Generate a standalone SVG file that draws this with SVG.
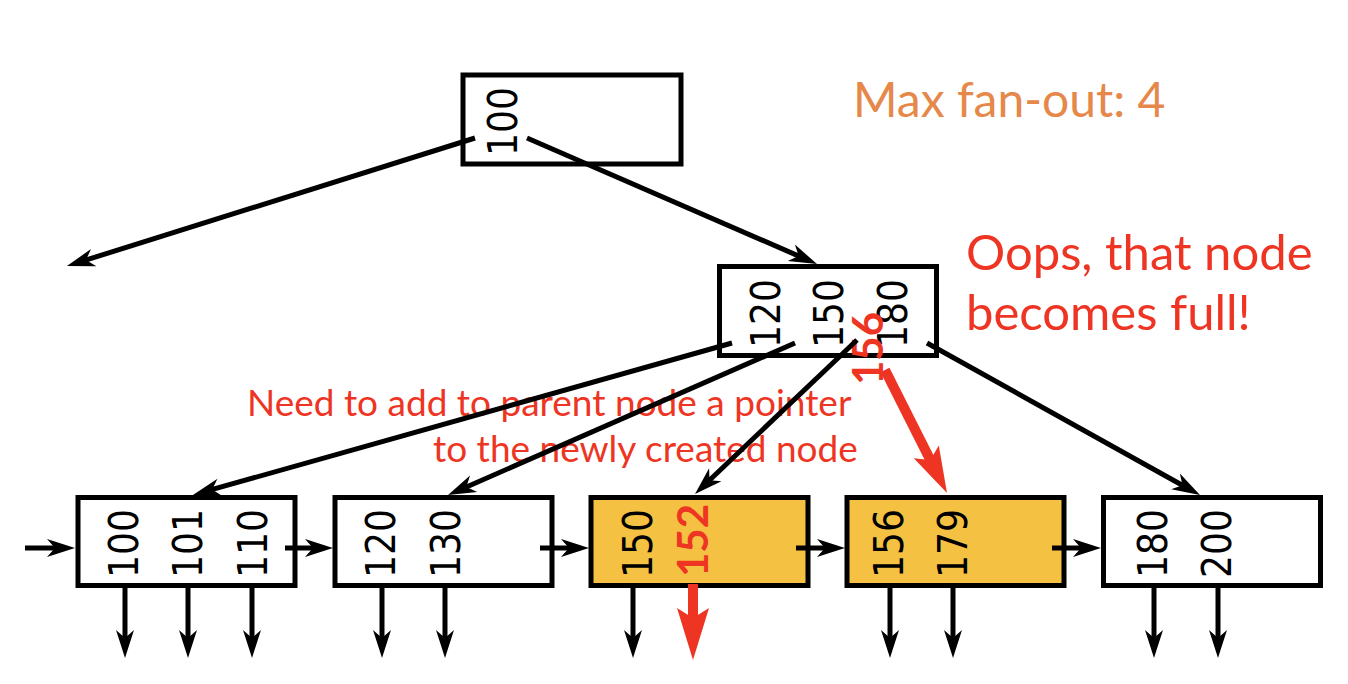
<svg xmlns="http://www.w3.org/2000/svg" width="1348" height="684" viewBox="0 0 1348 684">
<style>
.box{fill:#fff;stroke:#000;stroke-width:5}
.full{fill:#F4C142;stroke:#000;stroke-width:5}
.k{font-family:"DejaVu Sans",sans-serif;font-size:41px;fill:#000}
.rk{font-family:Lato,"Open Sans",sans-serif;font-size:42px;font-weight:bold;fill:#EE3524}
.ln{stroke:#000;stroke-width:5;fill:none}
.rl{stroke:#EE3524;stroke-width:10;fill:none}
.note{font-family:Lato,"Open Sans",sans-serif;fill:#EE3524}
</style>
<defs>
<marker id="ah" markerUnits="userSpaceOnUse" orient="auto" refX="0" refY="0" markerWidth="40" markerHeight="40" overflow="visible">
<path d="M12,0 L-16,-9 L-8,0 L-16,9 Z" fill="#000"/>
</marker>
<marker id="rah" markerUnits="userSpaceOnUse" orient="auto" refX="0" refY="0" markerWidth="60" markerHeight="60" overflow="visible">
<path d="M20,0 L-32,-16 L-22,0 L-32,16 Z" fill="#EE3524"/>
</marker>
<marker id="rah2" markerUnits="userSpaceOnUse" orient="auto" refX="0" refY="0" markerWidth="60" markerHeight="60" overflow="visible">
<path d="M18,0 L-28,-14 L-19,0 L-28,14 Z" fill="#EE3524"/>
</marker>
</defs>

<g id="root">
<rect class="box" x="463" y="75" width="218" height="89"/>
<text class="k" transform="translate(517,156) rotate(-90) scale(0.88,1)">100</text>
</g>

<g id="inner">
<rect class="box" x="719.5" y="266.5" width="217" height="89"/>
<text class="k" transform="translate(780,348) rotate(-90) scale(0.88,1)">120</text>
<text class="k" transform="translate(843,348) rotate(-90) scale(0.88,1)">150</text>
<text class="k" transform="translate(907,348) rotate(-90) scale(0.88,1)">180</text>
</g>

<g id="leaf1">
<rect class="box" x="78" y="497.5" width="217" height="88"/>
<text class="k" transform="translate(138,578) rotate(-90) scale(0.88,1)">100</text>
<text class="k" transform="translate(202,578) rotate(-90) scale(0.88,1)">101</text>
<text class="k" transform="translate(267,578) rotate(-90) scale(0.88,1)">110</text>
</g>

<g id="leaf2">
<rect class="box" x="335" y="497.5" width="217" height="88"/>
<text class="k" transform="translate(395,578) rotate(-90) scale(0.88,1)">120</text>
<text class="k" transform="translate(460,578) rotate(-90) scale(0.88,1)">130</text>
</g>

<g id="leaf3">
<rect class="full" x="591" y="497.5" width="217" height="88"/>
<text class="k" transform="translate(652,578) rotate(-90) scale(0.88,1)">150</text>
<text class="rk" transform="translate(708,577) rotate(-90)">152</text>
</g>

<g id="leaf4">
<rect class="full" x="847" y="497.5" width="217" height="88"/>
<text class="k" transform="translate(903,578) rotate(-90) scale(0.88,1)">156</text>
<text class="k" transform="translate(967,578) rotate(-90) scale(0.88,1)">179</text>
</g>

<g id="leaf5">
<rect class="box" x="1103.5" y="497.5" width="217" height="88"/>
<text class="k" transform="translate(1167,578) rotate(-90) scale(0.88,1)">180</text>
<text class="k" transform="translate(1231,578) rotate(-90) scale(0.88,1)">200</text>
</g>

<g id="annotations">
<text x="853" y="117" style="font-family:Lato,'Open Sans',sans-serif;font-size:48px;fill:#E5884A">Max fan-out: 4</text>
<text class="note" x="966" y="270" style="font-size:49px">Oops, that node</text>
<text class="note" x="966" y="330" style="font-size:49px">becomes full!</text>
<text class="note" x="247" y="416" style="font-size:37px">Need to add to parent node a pointer</text>
<text class="note" x="433" y="462" style="font-size:37px">to the newly created node</text>
<text class="rk" transform="translate(883,385) rotate(-90)">156</text>
</g>

<g id="connectors">
<line class="ln" x1="475" y1="138" x2="78.4" y2="262.4" marker-end="url(#ah)"/>
<line class="ln" x1="527" y1="138" x2="806" y2="259.2" marker-end="url(#ah)"/>
<line class="ln" x1="732" y1="343" x2="204.5" y2="491.7" marker-end="url(#ah)"/>
<line class="ln" x1="795" y1="343" x2="459" y2="490.2" marker-end="url(#ah)"/>
<line class="ln" x1="857" y1="340" x2="703.7" y2="485.7" marker-end="url(#ah)"/>
<line class="ln" x1="927" y1="343" x2="1189.5" y2="489.2" marker-end="url(#ah)"/>
<line class="ln" x1="25" y1="548" x2="63" y2="548" marker-end="url(#ah)"/>
<line class="ln" x1="285" y1="548" x2="321" y2="548" marker-end="url(#ah)"/>
<line class="ln" x1="540" y1="548" x2="577" y2="548" marker-end="url(#ah)"/>
<line class="ln" x1="796" y1="548" x2="833" y2="548" marker-end="url(#ah)"/>
<line class="ln" x1="1052" y1="548" x2="1089" y2="548" marker-end="url(#ah)"/>
<line class="ln" x1="125" y1="584" x2="125" y2="646" marker-end="url(#ah)"/>
<line class="ln" x1="188" y1="584" x2="188" y2="646" marker-end="url(#ah)"/>
<line class="ln" x1="252" y1="584" x2="252" y2="646" marker-end="url(#ah)"/>
<line class="ln" x1="382" y1="584" x2="382" y2="646" marker-end="url(#ah)"/>
<line class="ln" x1="445" y1="584" x2="445" y2="646" marker-end="url(#ah)"/>
<line class="ln" x1="633" y1="584" x2="633" y2="646" marker-end="url(#ah)"/>
<line class="ln" x1="890" y1="584" x2="890" y2="646" marker-end="url(#ah)"/>
<line class="ln" x1="953" y1="584" x2="953" y2="646" marker-end="url(#ah)"/>
<line class="ln" x1="1154" y1="584" x2="1154" y2="646" marker-end="url(#ah)"/>
<line class="ln" x1="1218" y1="584" x2="1218" y2="646" marker-end="url(#ah)"/>
<line class="rl" x1="693" y1="584" x2="693" y2="640" marker-end="url(#rah)"/>
<line class="rl" x1="885" y1="370" x2="938.9" y2="476.9" marker-end="url(#rah2)"/>
</g>
</svg>
